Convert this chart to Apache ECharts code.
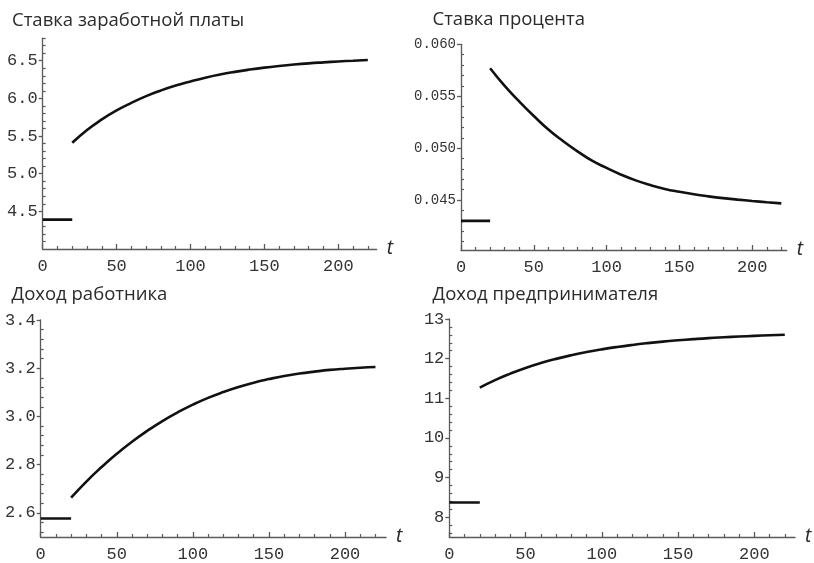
<!DOCTYPE html>
<html>
<head>
<meta charset="utf-8">
<script src="https://cdn.jsdelivr.net/npm/echarts@6/dist/echarts.min.js"></script>
<style>
  html, body { margin: 0; padding: 0; background: #ffffff; }
  #chart { width: 814px; height: 563px; }
</style>
</head>
<body>
<div id="chart"></div>
<script>
// ---- data -------------------------------------------------------------
const titles = ['Ставка заработной платы', 'Ставка процента', 'Доход работника', 'Доход предпринимателя'];

// time grid: the old level holds until t = 20, the adjustment path runs to t = 220
const tFlat  = [0, 20];
const tCurve = [20, 30, 40, 50, 60, 70, 80, 90, 100, 110, 120, 130, 140, 150, 160, 170, 180, 190, 200, 210, 220];
const tTicks = [0, 50, 100, 150, 200];

// wage rate
const wageBefore = 4.39;
const wageAfter  = [5.41, 5.58, 5.72, 5.84, 5.94, 6.03, 6.105, 6.17, 6.225, 6.275, 6.317,
                    6.352, 6.382, 6.408, 6.43, 6.449, 6.465, 6.478, 6.49, 6.50, 6.51];
const wageTicks  = [4.5, 5.0, 5.5, 6.0, 6.5];

// interest rate
const rateBefore = 0.0430;
const rateAfter  = [0.0577, 0.0560, 0.0545, 0.0531, 0.0518, 0.0507, 0.0497, 0.0488, 0.0481, 0.04745, 0.0469,
                    0.04645, 0.04608, 0.0458, 0.04556, 0.04536, 0.04519, 0.04505, 0.04492, 0.0448, 0.04469];
const rateTicks  = [0.045, 0.050, 0.055, 0.060];

// worker income
const workerBefore = 2.577;
const workerAfter  = [2.663, 2.730, 2.790, 2.845, 2.895, 2.940, 2.981, 3.017, 3.049, 3.077, 3.101,
                      3.122, 3.140, 3.155, 3.168, 3.178, 3.186, 3.193, 3.198, 3.202, 3.205];
const workerTicks  = [2.6, 2.8, 3.0, 3.2, 3.4];

// entrepreneur income
const ownerBefore = 8.37;
const ownerAfter  = [11.27, 11.459, 11.622, 11.765, 11.888, 11.994, 12.086, 12.165, 12.234, 12.294, 12.346,
                     12.391, 12.43, 12.463, 12.492, 12.518, 12.539, 12.558, 12.574, 12.589, 12.601];
const ownerTicks  = [8, 9, 10, 11, 12, 13];

// ---- layout -----------------------------------------------------------
const panels = [
  { title: titles[0], before: wageBefore, after: wageAfter, ticks: wageTicks, digits: 1,
    yMin: 4.0, yMax: 6.8, minorStep: 0.1, xMax: 226, labelSize: 17,
    box: { left: 42.7, top: 38.1, width: 334, height: 210.9 }, titleAt: [12, 11] },
  { title: titles[1], before: rateBefore, after: rateAfter, ticks: rateTicks, digits: 3,
    yMin: 0.0402, yMax: 0.060, minorStep: 0.001, xMax: 223.7, labelSize: 14,
    box: { left: 461, top: 44.3, width: 325.7, height: 205.7 }, titleAt: [432.5, 10] },
  { title: titles[2], before: workerBefore, after: workerAfter, ticks: workerTicks, digits: 1,
    yMin: 2.5, yMax: 3.4, minorStep: 0.04, xMax: 227, labelSize: 17,
    box: { left: 40.7, top: 320, width: 345.4, height: 218.7 }, titleAt: [11.5, 285] },
  { title: titles[3], before: ownerBefore, after: ownerAfter, ticks: ownerTicks, digits: 0,
    yMin: 7.5, yMax: 13, minorStep: 0.2, xMax: 226.7, labelSize: 17,
    box: { left: 449.3, top: 319, width: 345.7, height: 218.3 }, titleAt: [432.5, 285] }
];

const AXIS_COLOR  = '#5a5a5a';
const LABEL_COLOR = '#333333';
const MONO = '"Liberation Mono", "DejaVu Sans Mono", monospace';

function minorValues(min, max, step, majors) {
  const out = [];
  const start = Math.ceil(min / step - 1e-9);
  for (let k = start; k * step <= max + 1e-9; k++) {
    const v = +(k * step).toFixed(6);
    if (v <= min + 1e-9) continue;
    if (majors.some(m => Math.abs(m - v) < step * 1e-3)) continue;
    out.push(v);
  }
  return out;
}

const grid = [], xAxis = [], yAxis = [], series = [], title = [];

panels.forEach((p) => {
  const g = grid.length;
  grid.push(Object.assign({ containLabel: false }, p.box));

  title.push({
    text: p.title, left: p.titleAt[0], top: p.titleAt[1], padding: 0,
    textStyle: { fontFamily: '"Open Sans", "Noto Sans", sans-serif', fontSize: 18.5,
                 fontWeight: 'normal', color: '#2a2a2a', lineHeight: 20 }
  });

  // main axes: line, major ticks, labels
  const xMain = xAxis.length;
  xAxis.push({
    type: 'value', gridIndex: g, min: 0, max: p.xMax, position: 'bottom', offset: 0,
    axisLine: { onZero: false, lineStyle: { color: AXIS_COLOR, width: 1.3 } },
    axisTick: { show: true, inside: true, length: 5, customValues: tTicks,
                lineStyle: { color: AXIS_COLOR, width: 1.3 } },
    axisLabel: { customValues: tTicks, margin: 9, fontFamily: MONO, fontSize: 17,
                 color: LABEL_COLOR, formatter: v => String(v) },
    splitLine: { show: false },
    name: 't', nameLocation: 'end', nameGap: 10,
    nameTextStyle: { fontFamily: '"Noto Sans", "Open Sans", sans-serif', fontStyle: 'italic',
                     fontSize: 19, color: '#2a2a2a', verticalAlign: 'middle', padding: [0, 0, 4, 0] }
  });
  const yMain = yAxis.length;
  yAxis.push({
    type: 'value', gridIndex: g, min: p.yMin, max: p.yMax, position: 'left', offset: 0,
    axisLine: { onZero: false, lineStyle: { color: AXIS_COLOR, width: 1.3 } },
    axisTick: { show: true, inside: false, length: 4, customValues: p.ticks,
                lineStyle: { color: AXIS_COLOR, width: 1.3 } },
    axisLabel: { customValues: p.ticks, margin: 5, fontFamily: MONO, fontSize: p.labelSize,
                 color: LABEL_COLOR, formatter: v => v.toFixed(p.digits) },
    splitLine: { show: false }
  });

  // companion axes on the same grid carrying only the minor tick marks
  const xMinor = minorValues(0, p.xMax, 10, tTicks);
  const yMinor = minorValues(p.yMin, p.yMax, p.minorStep, p.ticks);
  xAxis.push({
    type: 'value', gridIndex: g, min: 0, max: p.xMax, position: 'bottom', offset: 0,
    axisLine: { show: false, onZero: false },
    axisTick: { show: true, inside: true, length: 3, customValues: xMinor,
                lineStyle: { color: AXIS_COLOR, width: 1.2 } },
    axisLabel: { show: false },
    splitLine: { show: false }
  });
  yAxis.push({
    type: 'value', gridIndex: g, min: p.yMin, max: p.yMax, position: 'left', offset: 0,
    axisLine: { show: false, onZero: false },
    axisTick: { show: true, inside: true, length: 3, customValues: yMinor,
                lineStyle: { color: AXIS_COLOR, width: 1.2 } },
    axisLabel: { show: false },
    splitLine: { show: false }
  });

  const lineStyle = { color: '#111111', width: 2.6 };
  series.push({
    type: 'line', xAxisIndex: xMain, yAxisIndex: yMain, showSymbol: false, silent: true,
    animation: false, lineStyle,
    data: tFlat.map(t => [t, p.before])
  });
  series.push({
    type: 'line', xAxisIndex: xMain, yAxisIndex: yMain, showSymbol: false, silent: true,
    animation: false, smooth: 0.5, lineStyle,
    data: tCurve.map((t, k) => [t, p.after[k]])
  });
});

const chart = echarts.init(document.getElementById('chart'), null, { renderer: 'canvas' });
chart.setOption({
  backgroundColor: '#ffffff',
  animation: false,
  title, grid, xAxis, yAxis, series
});
</script>
</body>
</html>
